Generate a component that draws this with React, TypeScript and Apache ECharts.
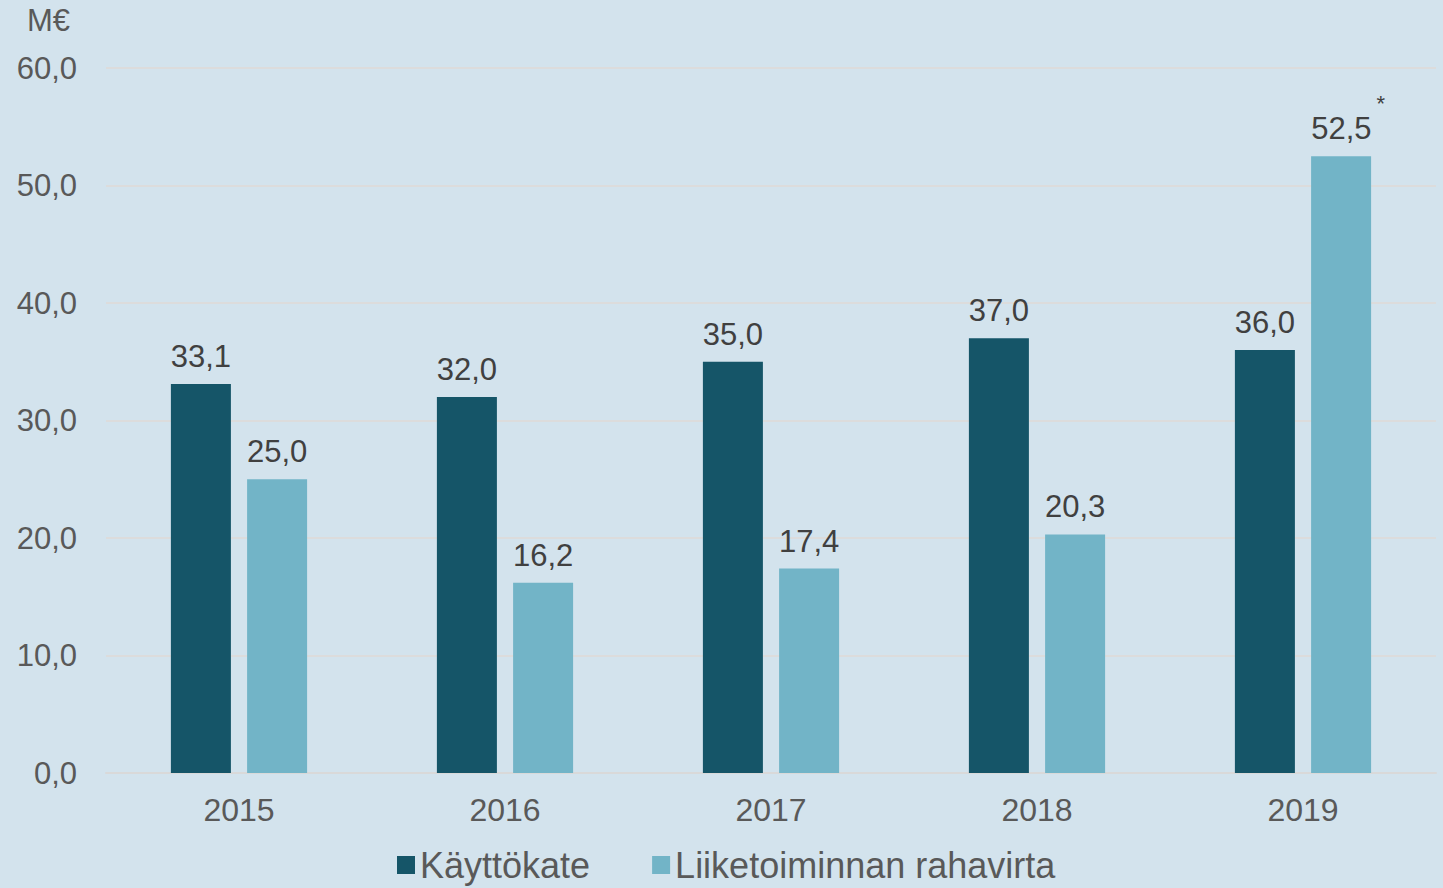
import React, { useEffect, useRef } from "react";
import * as echarts from "echarts";

const years = ["2015", "2016", "2017", "2018", "2019"];
const kayttokate = [33.1, 32.0, 35.0, 37.0, 36.0];
const rahavirta = [25.0, 16.2, 17.4, 20.3, 52.5];
const starredYear = "2019";
const yTicks = { min: 0, max: 60, interval: 10 };

const fmt = (v: number) => v.toFixed(1).replace(".", ",");
const FONT = "'Liberation Sans', Arial, sans-serif";

export default function App() {
  const ref = useRef<HTMLDivElement>(null);
  useEffect(() => {
    if (!ref.current) return;
    const chart = echarts.init(ref.current, null, { renderer: "svg" });
    const labelBase = {
      show: true,
      position: "top",
      distance: 12,
      color: "#404040",
      fontSize: 31,
      fontFamily: FONT,
    };
    chart.setOption({
      animation: false,
      backgroundColor: "#d3e3ed",
      textStyle: { fontFamily: FONT },
      grid: { left: 106, right: 7, top: 68, bottom: 115 },
      legend: {
        top: 846,
        left: 397,
        padding: 0,
        itemWidth: 18,
        itemHeight: 18,
        itemGap: 62,
        icon: "rect",
        textStyle: { fontSize: 36, lineHeight: 38, color: "#595959", fontFamily: FONT },
        data: ["Käyttökate", "Liiketoiminnan rahavirta"],
      },
      xAxis: {
        type: "category",
        data: years,
        axisTick: { show: false },
        axisLine: { lineStyle: { color: "#d9d9d9", width: 2 } },
        axisLabel: { fontSize: 32, color: "#595959", margin: 21, fontFamily: FONT },
      },
      yAxis: {
        type: "value",
        min: yTicks.min,
        max: yTicks.max,
        interval: yTicks.interval,
        name: "M€",
        nameLocation: "end",
        nameGap: 32,
        nameTextStyle: { fontSize: 31, color: "#595959", align: "right", padding: [0, 36, 0, 0], fontFamily: FONT },
        axisLine: { show: false },
        axisTick: { show: false },
        splitLine: { lineStyle: { color: "#dcdcdc", width: 2 } },
        axisLabel: {
          fontSize: 31,
          color: "#595959",
          margin: 29,
          fontFamily: FONT,
          formatter: (v: number) => fmt(v),
        },
      },
      series: [
        {
          name: "Käyttökate",
          type: "bar",
          data: kayttokate,
          barWidth: 60,
          barGap: "27%",
          itemStyle: { color: "#155568" },
          label: { ...labelBase, formatter: (p: any) => fmt(p.value) },
        },
        {
          name: "Liiketoiminnan rahavirta",
          type: "bar",
          data: rahavirta.map((v, i) =>
            years[i] === starredYear
              ? {
                  value: v,
                  label: {
                    formatter: (p: any) => `{v|${fmt(p.value)}}{s|*}`,
                    offset: [7, 20],
                    rich: {
                      v: { fontSize: 31, color: "#404040", fontFamily: FONT },
                      s: {
                        fontSize: 22,
                        color: "#404040",
                        fontFamily: FONT,
                        verticalAlign: "top",
                        padding: [0, 0, 50, 5],
                      },
                    },
                  },
                }
              : v
          ),
          barWidth: 60,
          itemStyle: { color: "#72b4c7" },
          label: { ...labelBase, formatter: (p: any) => fmt(p.value) },
        },
      ],
    });
    return () => chart.dispose();
  }, []);
  return (
    <div
      ref={ref}
      style={{ position: "fixed", left: 0, top: 0, width: 1443, height: 888 }}
    />
  );
}
